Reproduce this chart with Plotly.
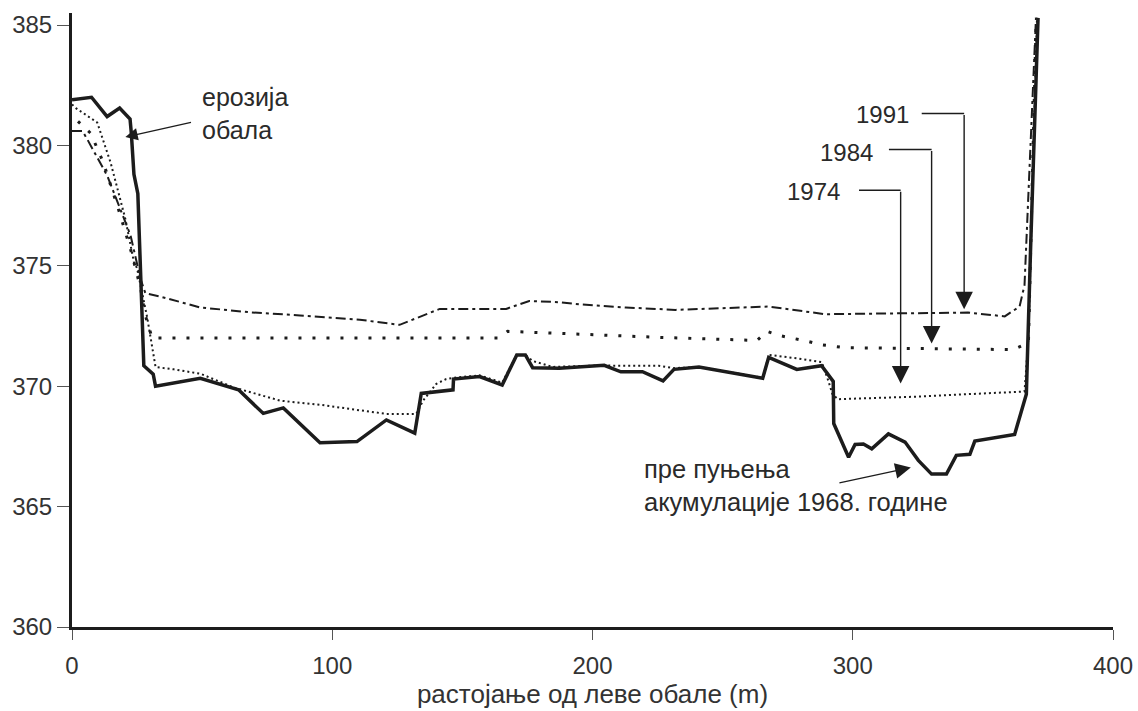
import plotly.graph_objects as go

# Cross-section profiles: distance from the left bank (m) vs. bed elevation (m)
x_1968 = [0, 7.5, 13.5, 18.3, 22.3, 22.8, 23.8, 25.3, 27.6, 31.2, 32.1, 49.3, 64.0, 73.5,
          81.2, 95.3, 109.5, 120.8, 131.7, 134.2, 146.4, 146.6, 156.6, 165.3, 170.9, 174.2,
          177.0, 187.2, 204.5, 210.9, 219.2, 227.1, 231.3, 240.9, 265.4, 267.7, 278.5, 288.0,
          292.5, 292.7, 298.4, 300.9, 304.1, 307.3, 313.7, 320.1, 325.2, 330.3, 336.0, 339.8,
          345.0, 346.9, 362.2, 366.7, 368.3, 371.2]
y_1968 = [381.9, 382.0, 381.2, 381.55, 381.1, 380.5, 378.8, 378.0, 370.85, 370.5, 370.0, 370.33,
          369.85, 368.87, 369.1, 367.65, 367.7, 368.6, 368.05, 369.7, 369.85, 370.3, 370.4,
          370.05, 371.3, 371.3, 370.77, 370.75, 370.87, 370.6, 370.6, 370.22, 370.7, 370.8,
          370.33, 371.2, 370.7, 370.85, 370.2, 368.45, 367.05, 367.58, 367.6, 367.4, 368.02,
          367.68, 366.92, 366.35, 366.35, 367.13, 367.17, 367.72, 368.0, 369.67, 375.6, 385.3]

x_1974 = [0, 1.5, 9.7, 14.8, 20.5, 23.8, 25.0, 28.9, 32.1, 39.1, 49.3, 62.1, 80.0, 95.3, 110.6,
          120.8, 132.3, 134.9, 140.0, 143.8, 146.6, 156.6, 165.3, 170.9, 174.2, 177.0, 184.7,
          204.5, 207.7, 225.5, 231.3, 240.9, 265.4, 267.8, 279.2, 288.1, 290.7, 292.2, 294.3,
          325.2, 344.3, 366.0, 367.5, 370.8]
y_1974 = [381.7, 381.55, 380.95, 379.3, 376.95, 375.15, 374.9, 372.85, 370.8, 370.7, 370.52,
          369.95, 369.4, 369.23, 369.0, 368.85, 368.85, 369.4, 370.1, 370.3, 370.35, 370.45,
          370.15, 371.3, 371.3, 371.05, 370.8, 370.87, 370.85, 370.85, 370.75, 370.8, 370.35,
          371.3, 371.15, 371.0, 370.2, 369.67, 369.46, 369.57, 369.67, 369.78, 372.0, 385.3]

x_1984 = [2.3, 7.2, 12.0, 18.0, 23.0, 26.5, 28.0, 30.8, 163.5, 167.4, 225.5, 263.2, 267.0,
          272.0, 282.4, 287.4, 297.1, 329.0, 361.6, 367.5, 370.5]
y_1984 = [381.0, 380.5, 379.3, 377.3, 375.5, 374.0, 373.0, 372.0, 372.0, 372.28, 372.03, 371.9,
          372.28, 372.1, 371.87, 371.73, 371.6, 371.57, 371.52, 371.8, 385.3]

x_1991 = [0, 4.0, 5.9, 13.6, 22.5, 26.3, 28.2, 34.0, 49.3, 68.5, 87.6, 110.6, 125.9, 141.3,
          166.8, 175.7, 187.2, 194.9, 212.8, 231.9, 267.7, 289.4, 344.3, 352.0, 358.4, 364.1,
          366.0, 370.4]
y_1991 = [380.6, 380.6, 380.25, 378.73, 376.26, 374.47, 373.86, 373.72, 373.27, 373.07, 372.94,
          372.76, 372.55, 373.21, 373.21, 373.54, 373.49, 373.4, 373.27, 373.17, 373.31, 372.99,
          373.06, 372.97, 372.9, 373.31, 374.2, 385.3]

x_ticks = [0, 100, 200, 300, 400]
y_ticks = [360, 365, 370, 375, 380, 385]

# Year labels with their elbow leaders
year_labels = ["1991", "1984", "1974"]
label_x = [322.4, 308.6, 295.8]
label_y = [381.3, 379.7, 378.07]
leader_x0 = [326.5, 313.9, 302.4]
leader_y = [381.33, 379.83, 378.14]
tip_x = [342.8, 330.3, 318.4]
tip_y = [373.2, 371.77, 370.11]

INK = "#1c1c1c"
TEXT = "#2a2a2a"
FONT = "Arial, Liberation Sans, sans-serif"

fig = go.Figure()

fig.add_trace(go.Scatter(x=x_1991, y=y_1991, mode="lines", name="1991",
                         line=dict(color=INK, width=2, dash="10px,4px,3px,4px")))
fig.add_trace(go.Scatter(x=x_1984, y=y_1984, mode="lines", name="1984",
                         line=dict(color=INK, width=3, dash="3px,11px")))
fig.add_trace(go.Scatter(x=x_1974, y=y_1974, mode="lines", name="1974",
                         line=dict(color=INK, width=2, dash="2px,3px")))
fig.add_trace(go.Scatter(x=x_1968, y=y_1968, mode="lines", name="1968",
                         line=dict(color=INK, width=3.5)))

annotations = []
shapes = []
for lab, lx, ly, x0, yl, tx, ty in zip(year_labels, label_x, label_y, leader_x0, leader_y, tip_x, tip_y):
    annotations.append(dict(x=lx, y=ly, xref="x", yref="y", text=lab, showarrow=False,
                            xanchor="right", yanchor="middle",
                            font=dict(family=FONT, size=24, color=TEXT)))
    shapes.append(dict(type="line", xref="x", yref="y", x0=x0, x1=tx, y0=yl, y1=yl,
                       line=dict(color=INK, width=1.5)))
    annotations.append(dict(x=tx, y=ty, ax=tx, ay=yl, xref="x", yref="y", axref="x", ayref="y",
                            text="", showarrow=True, arrowhead=2, arrowsize=2.5,
                            arrowwidth=1.4, arrowcolor=INK, standoff=0))

# Bank erosion note
annotations.append(dict(x=49.0, y=381.34, xref="x", yref="y", text="ерозија<br>обала",
                        showarrow=False, xanchor="left", yanchor="middle", align="left",
                        font=dict(family=FONT, size=25, color=TEXT)))
annotations.append(dict(x=20.5, y=380.35, ax=46.3, ay=380.97, xref="x", yref="y",
                        axref="x", ayref="y", text="", showarrow=True, arrowhead=2,
                        arrowsize=1.9, arrowwidth=1.3, arrowcolor=INK, standoff=0))

# Original bed note
annotations.append(dict(x=219.0, y=365.89, xref="x", yref="y",
                        text="пре пуњења<br>акумулације 1968. године",
                        showarrow=False, xanchor="left", yanchor="middle", align="left",
                        font=dict(family=FONT, size=25.5, color=TEXT)))
annotations.append(dict(x=322.3, y=366.62, ax=294.3, ay=365.97, xref="x", yref="y",
                        axref="x", ayref="y", text="", showarrow=True, arrowhead=2,
                        arrowsize=2.4, arrowwidth=1.3, arrowcolor=INK, standoff=0))

fig.update_layout(
    width=1138, height=711,
    margin=dict(l=72, r=25, t=13, b=84),
    paper_bgcolor="white", plot_bgcolor="white",
    showlegend=False,
    font=dict(family=FONT, size=24, color="#333333"),
    annotations=annotations,
    shapes=shapes,
)

fig.update_xaxes(range=[0, 400], tickvals=x_ticks, showgrid=False, zeroline=False,
                 automargin=False,
                 showline=True, linewidth=3, linecolor=INK,
                 ticks="outside", ticklen=10, tickwidth=1, tickcolor="#555555",
                 ticklabelstandoff=5,
                 tickfont=dict(family=FONT, size=24, color="#333333"),
                 title=dict(text="растојање од леве обале (m)", standoff=0,
                            font=dict(family=FONT, size=26, color="#333333")))
fig.update_yaxes(range=[360, 385.5], tickvals=y_ticks, showgrid=False, zeroline=False,
                 automargin=False,
                 showline=True, linewidth=3, linecolor=INK,
                 ticks="outside", ticklen=12, tickwidth=1, tickcolor="#555555",
                 ticklabelstandoff=0,
                 tickfont=dict(family=FONT, size=24, color="#333333"))

fig.write_html("out.html")
